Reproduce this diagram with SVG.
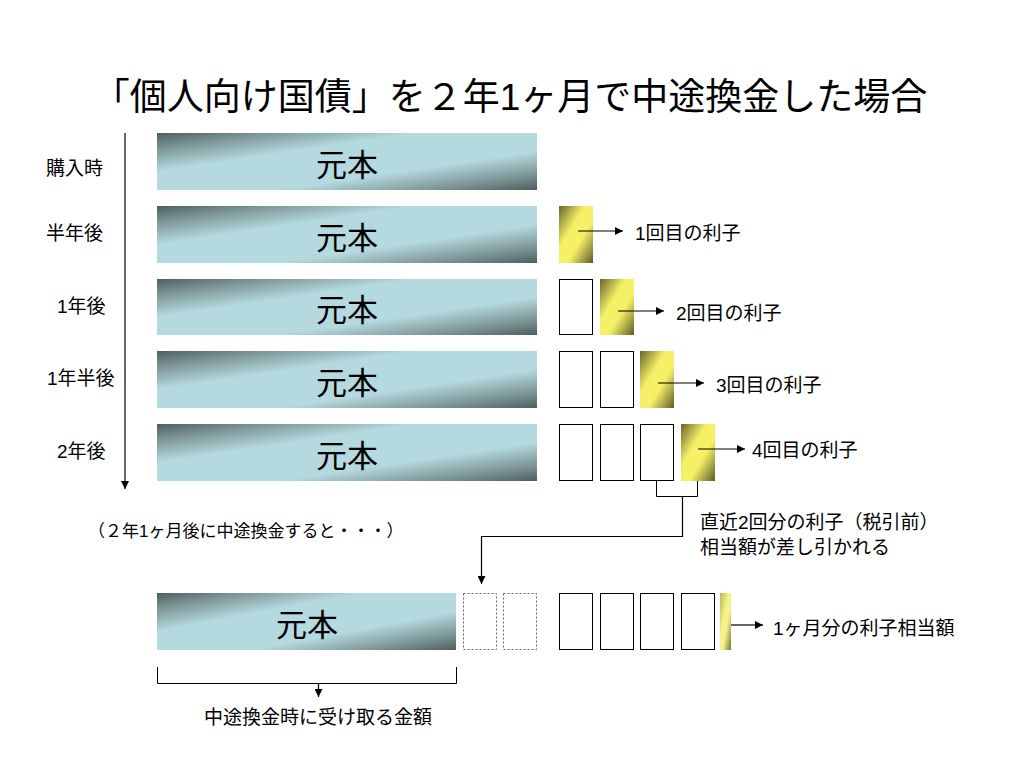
<svg xmlns="http://www.w3.org/2000/svg" width="1024" height="768" viewBox="0 0 1024 768">
<defs>
<linearGradient id="gBar" x1="0" y1="0" x2="1" y2="1">
<stop offset="0" stop-color="#4e5e5f"/>
<stop offset="0.14" stop-color="#7c9495"/>
<stop offset="0.34" stop-color="#b4d9de"/>
<stop offset="0.66" stop-color="#b4d9de"/>
<stop offset="0.86" stop-color="#7c9495"/>
<stop offset="1" stop-color="#4e5e5f"/>
</linearGradient>
<linearGradient id="gGold" x1="0" y1="0" x2="1" y2="1">
<stop offset="0" stop-color="#67652c"/>
<stop offset="0.38" stop-color="#f5f066"/>
<stop offset="0.62" stop-color="#f5f066"/>
<stop offset="1" stop-color="#5e5c28"/>
</linearGradient>
<linearGradient id="gThin" x1="0" y1="0" x2="1" y2="1">
<stop offset="0" stop-color="#b8b450"/>
<stop offset="0.4" stop-color="#f6f28a"/>
<stop offset="0.6" stop-color="#f6f28a"/>
<stop offset="1" stop-color="#77753a"/>
</linearGradient>
<marker id="ah" viewBox="0 0 10 10" refX="10" refY="5" markerWidth="8" markerHeight="8" orient="auto" markerUnits="userSpaceOnUse">
<path d="M0,0 L10,5 L0,10 z" fill="#000"/>
</marker>
</defs>
<style>
text{font-family:"Liberation Sans","Noto Sans CJK JP",sans-serif;fill:#000}
.t{font-size:37px}
.lb{font-size:19px}
.sm{font-size:17px}
.mb{font-size:31px}
.bar{fill:url(#gBar)}
.gold{fill:url(#gGold)}
.box{fill:#fff;stroke:#000;stroke-width:1}
.dash{fill:#fff;stroke:#666;stroke-width:1;stroke-dasharray:2,2}
.ln{fill:none;stroke:#000;stroke-width:1}
.lna{fill:none;stroke:#000;stroke-width:1.2;marker-end:url(#ah)}
</style>
<rect width="1024" height="768" fill="#fff"/>
<text class="t" x="510" y="110" text-anchor="middle">「個人向け国債」を２年1ヶ月で中途換金した場合</text>

<g id="timeline">
<text class="lb" x="46" y="175">購入時</text>
<text class="lb" x="46" y="240">半年後</text>
<text class="lb" x="57" y="313">1年後</text>
<text class="lb" x="47" y="385">1年半後</text>
<text class="lb" x="57" y="458">2年後</text>
</g>

<g id="row1">
<rect class="bar" x="157" y="133" width="380" height="57"/>
<text class="mb" x="347" y="176" text-anchor="middle">元本</text>
</g>
<g id="row2">
<rect class="bar" x="157" y="206" width="380" height="57"/>
<text class="mb" x="347" y="249" text-anchor="middle">元本</text>
<rect class="gold" x="559" y="206" width="34" height="57"/>
<text class="lb" x="635" y="240">1回目の利子</text>
</g>
<g id="row3">
<rect class="bar" x="157" y="279" width="380" height="56"/>
<text class="mb" x="347" y="321" text-anchor="middle">元本</text>
<rect class="box" x="559.5" y="279.5" width="33" height="55"/>
<rect class="gold" x="600" y="279" width="34" height="56"/>
<text class="lb" x="676" y="320">2回目の利子</text>
</g>
<g id="row4">
<rect class="bar" x="157" y="351" width="380" height="57"/>
<text class="mb" x="347" y="394" text-anchor="middle">元本</text>
<rect class="box" x="559.5" y="351.5" width="33" height="56"/>
<rect class="box" x="600.5" y="351.5" width="33" height="56"/>
<rect class="gold" x="640" y="351" width="34" height="57"/>
<text class="lb" x="716" y="392">3回目の利子</text>
</g>
<g id="row5">
<rect class="bar" x="157" y="424" width="380" height="57"/>
<text class="mb" x="347" y="467" text-anchor="middle">元本</text>
<rect class="box" x="559.5" y="424.5" width="33" height="56"/>
<rect class="box" x="600.5" y="424.5" width="33" height="56"/>
<rect class="box" x="640.5" y="424.5" width="33" height="56"/>
<rect class="gold" x="681" y="424" width="34" height="57"/>
<text class="lb" x="752" y="457">4回目の利子</text>
</g>

<g id="note">
<text class="sm" x="88" y="537">（２年1ヶ月後に中途換金すると・・・）</text>
<text class="lb" x="700" y="529">直近2回分の利子（税引前）</text>
<text class="lb" x="700" y="554">相当額が差し引かれる</text>
</g>

<g id="result">
<rect class="bar" x="157" y="593" width="299" height="57"/>
<text class="mb" x="307" y="636" text-anchor="middle">元本</text>
<rect class="dash" x="463.5" y="593.5" width="33" height="56"/>
<rect class="dash" x="503.5" y="593.5" width="33" height="56"/>
<rect class="box" x="559.5" y="593.5" width="33" height="56"/>
<rect class="box" x="600.5" y="593.5" width="33" height="56"/>
<rect class="box" x="640.5" y="593.5" width="33" height="56"/>
<rect class="box" x="681.5" y="593.5" width="33" height="56"/>
<rect x="720" y="593" width="11" height="57" fill="url(#gThin)"/>
<text class="lb" x="773" y="635">1ヶ月分の利子相当額</text>
<text class="lb" x="318" y="724" text-anchor="middle">中途換金時に受け取る金額</text>
</g>

<g id="connectors">
<line class="lna" x1="125" y1="133" x2="125" y2="489"/>
<line class="lna" x1="578" y1="231" x2="623" y2="231"/>
<line class="lna" x1="618" y1="311" x2="664" y2="311"/>
<line class="lna" x1="658" y1="383" x2="704" y2="383"/>
<line class="lna" x1="698" y1="449" x2="745" y2="449"/>
<line class="lna" x1="731" y1="625" x2="763" y2="625"/>
<polyline class="ln" points="656.5,481 656.5,496.5 697.5,496.5 697.5,481"/>
<polyline class="lna" points="682.5,497 682.5,536.5 481.5,536.5 481.5,584"/>
<polyline class="ln" points="157.5,667 157.5,683.5 456.5,683.5 456.5,667"/>
<line class="lna" x1="318.5" y1="684" x2="318.5" y2="697"/>
</g>
</svg>
